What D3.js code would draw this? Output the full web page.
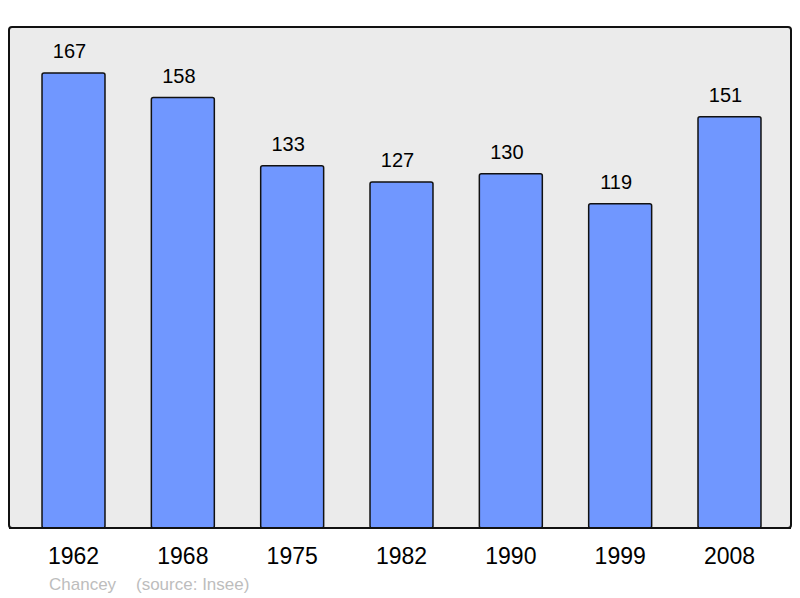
<!DOCTYPE html>
<html>
<head>
<meta charset="utf-8">
<script src="https://cdn.jsdelivr.net/npm/d3@7"></script>
<style>
  body { margin: 0; background: #fff; }
  svg { display: block; font-family: "Liberation Sans", Arial, sans-serif; }
</style>
</head>
<body>
<div id="chart"></div>
<script>
const years = ['1962', '1968', '1975', '1982', '1990', '1999', '2008'];
const population = [167, 158, 133, 127, 130, 119, 151];

const width = 800;
const height = 598;
const panel = { left: 9, top: 27, right: 791, bottom: 528 };

const svg = d3.select('#chart')
  .append('svg')
  .attr('width', width)
  .attr('height', height);

// grey frame behind the bars
svg.append('rect')
  .attr('x', panel.left)
  .attr('y', panel.top)
  .attr('width', panel.right - panel.left)
  .attr('height', panel.bottom - panel.top)
  .attr('rx', 3)
  .attr('fill', '#ebebeb')
  .attr('stroke', '#111')
  .attr('stroke-width', 2);

const x = d3.scaleBand()
  .domain(years)
  .range([9, 794])
  .paddingInner(0.424)
  .paddingOuter(0.302);

const y = d3.scaleLinear()
  .domain([0, 183.9])
  .range([panel.bottom, panel.top]);

const data = years.map((yr, i) => ({ year: yr, value: population[i] }));

svg.selectAll('rect.bar')
  .data(data)
  .enter()
  .append('rect')
  .attr('class', 'bar')
  .attr('x', d => x(d.year))
  .attr('y', d => y(d.value))
  .attr('width', x.bandwidth())
  .attr('height', d => y(0) - y(d.value))
  .attr('rx', 2)
  .attr('fill', '#7097ff')
  .attr('stroke', '#111')
  .attr('stroke-width', 1.5);

svg.selectAll('text.value')
  .data(data)
  .enter()
  .append('text')
  .attr('class', 'value')
  .attr('x', d => x(d.year) + x.bandwidth() / 2 - 4)
  .attr('y', d => y(d.value) - 15)
  .attr('text-anchor', 'middle')
  .attr('font-size', 20)
  .attr('fill', '#000')
  .text(d => d.value);

// bottom edge of the panel drawn over the bars
svg.append('line')
  .attr('x1', panel.left).attr('x2', panel.right)
  .attr('y1', panel.bottom).attr('y2', panel.bottom)
  .attr('stroke', '#111').attr('stroke-width', 2);

const axis = d3.axisBottom(x).tickSize(0).tickPadding(20);
svg.append('g')
  .attr('transform', `translate(0, ${panel.bottom})`)
  .call(axis)
  .call(g => g.select('.domain').remove())
  .selectAll('text')
  .attr('font-size', 23)
  .attr('font-family', '"Liberation Sans", Arial, sans-serif')
  .attr('fill', '#000');

svg.append('text')
  .attr('x', 49)
  .attr('y', 590)
  .attr('font-size', 17)
  .attr('fill', '#bdbdbd')
  .text('Chancey');

svg.append('text')
  .attr('x', 136)
  .attr('y', 590)
  .attr('font-size', 17)
  .attr('fill', '#bdbdbd')
  .text('(source: Insee)');
</script>
</body>
</html>
